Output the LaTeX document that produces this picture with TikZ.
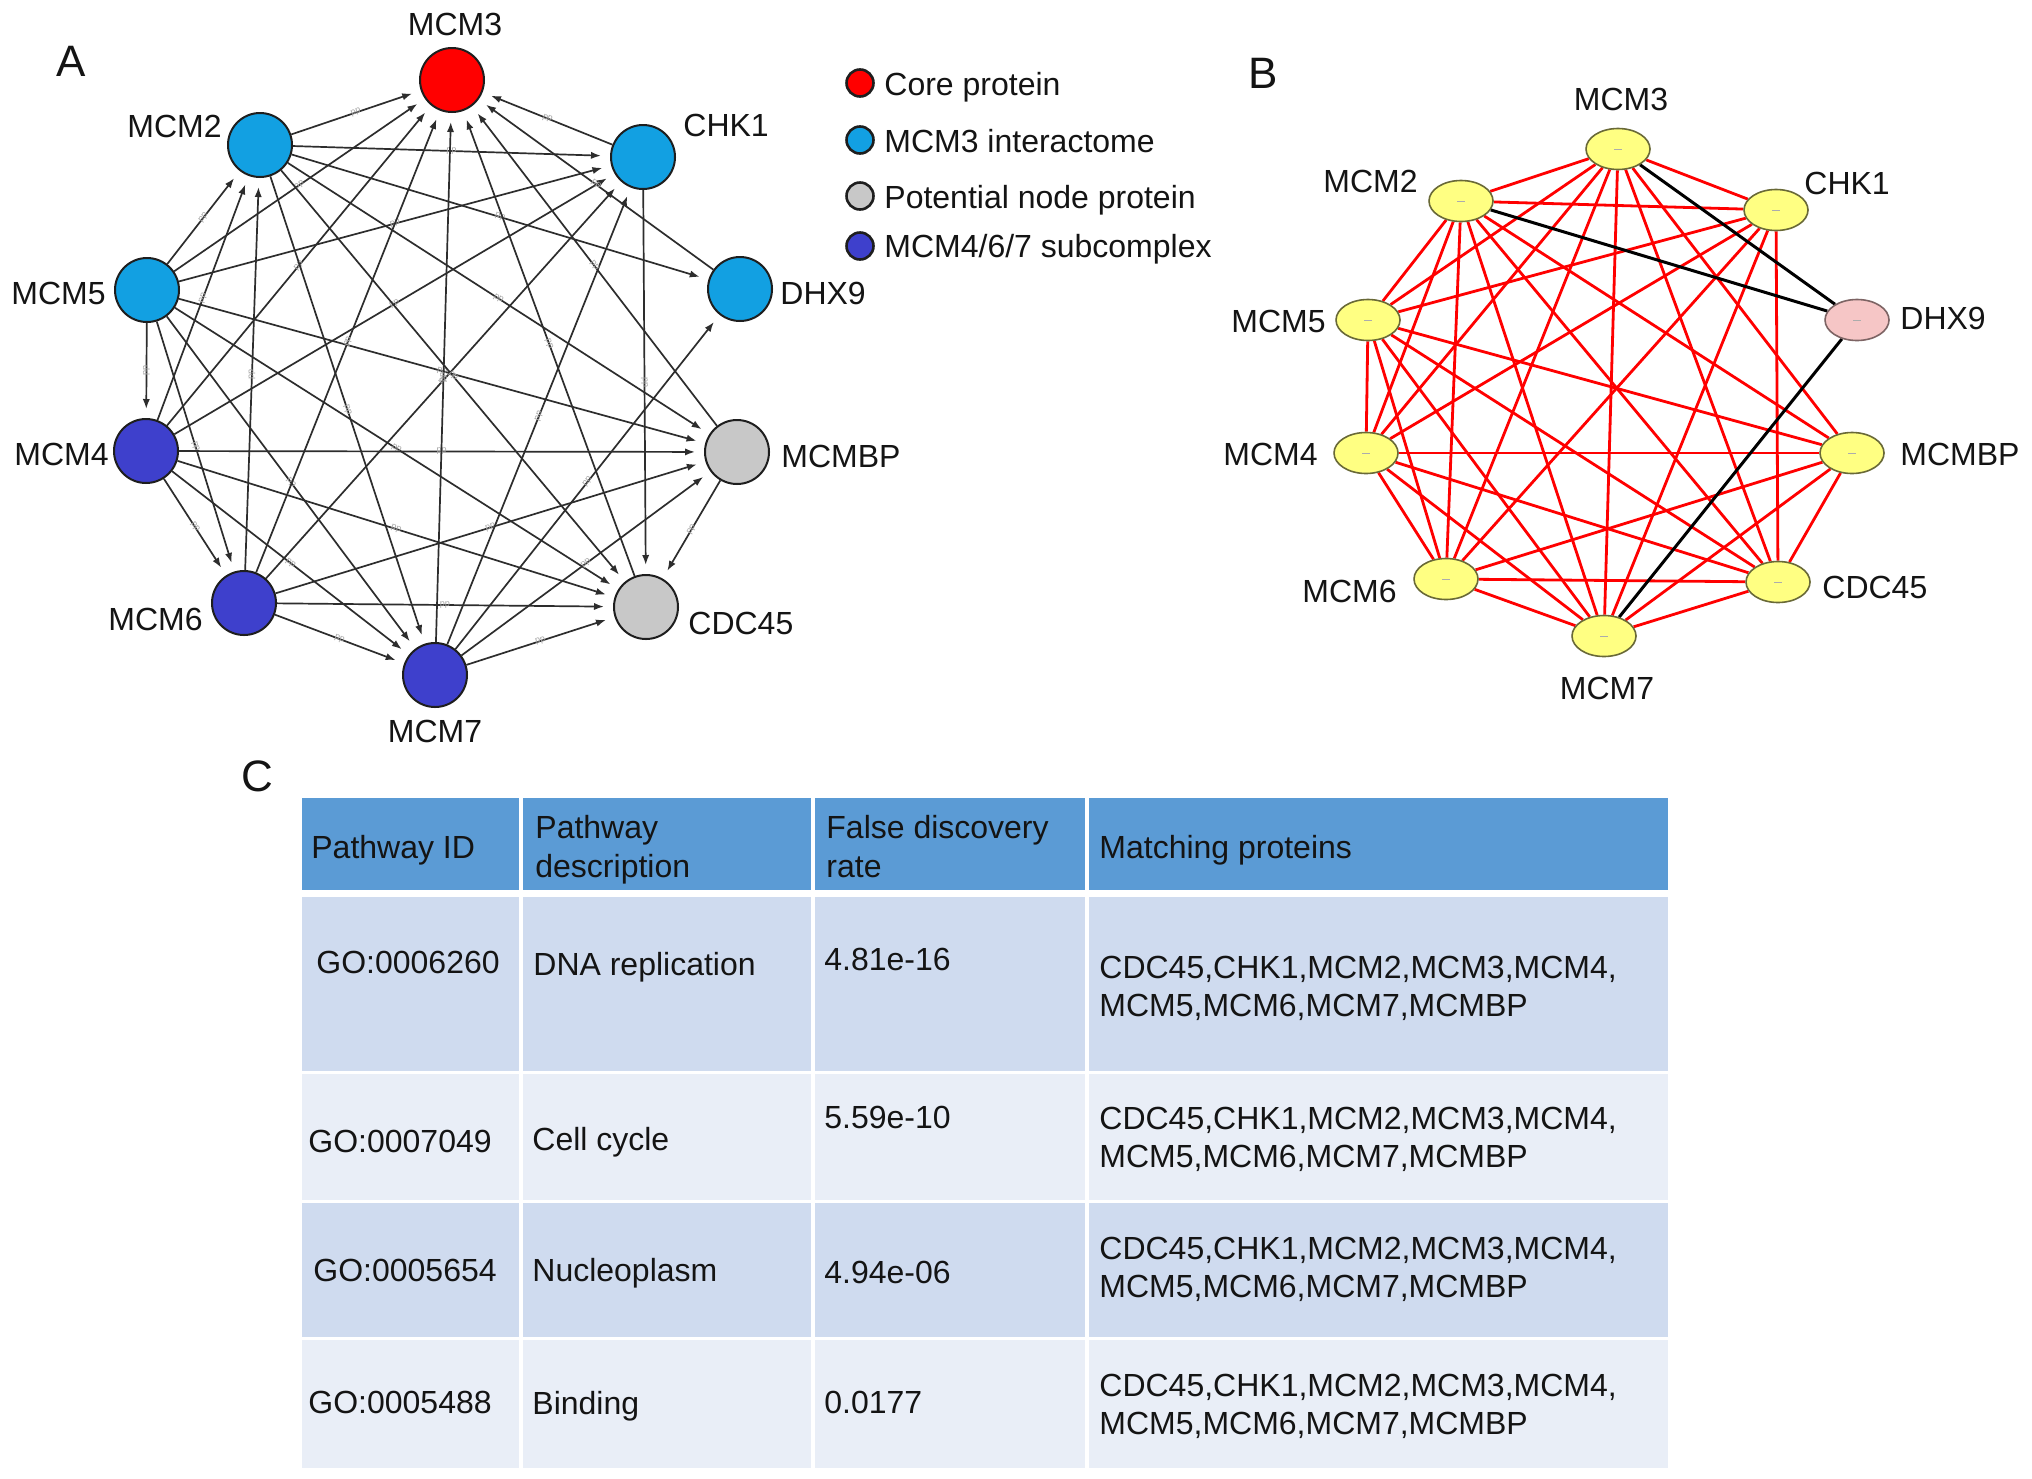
\documentclass[tikz,border=0pt]{standalone}
\usepackage{fontspec}
\setmainfont{Liberation Sans}
\usetikzlibrary{arrows.meta,shapes.geometric,backgrounds}
\definecolor{coreRed}{RGB}{255,0,0}
\definecolor{interBlue}{RGB}{18,160,226}
\definecolor{subBlue}{RGB}{62,64,204}
\definecolor{potGray}{RGB}{200,200,200}
\definecolor{nodeLine}{RGB}{30,30,30}
\definecolor{edgeGray}{RGB}{45,45,45}
\definecolor{txt}{RGB}{20,20,20}
\definecolor{bYellow}{RGB}{255,255,130}
\definecolor{bLine}{RGB}{105,105,55}
\definecolor{bPink}{RGB}{246,198,198}
\definecolor{bPinkLine}{RGB}{125,100,100}
\definecolor{hdrBlue}{RGB}{91,155,213}
\definecolor{rowDark}{RGB}{207,219,239}
\definecolor{rowLight}{RGB}{233,238,247}
\tikzset{
  anode/.style={circle, draw=nodeLine, line width=1pt, minimum size=32pt, inner sep=0pt},
  lgnode/.style={circle, draw=nodeLine, line width=1.3pt, minimum size=13.5pt, inner sep=0pt},
  bnode/.style={ellipse, draw=bLine, line width=0.8pt, minimum width=32pt, minimum height=20.5pt, inner sep=0pt, fill=bYellow},
  lbl/.style={inner sep=0pt, font=\fontsize{16}{19.5}\selectfont, text=txt},
  panel/.style={inner sep=0pt, font=\fontsize{22}{26}\selectfont, text=txt},
  aedge/.style={draw=edgeGray, line width=0.85pt, -{Latex[length=5pt,width=3.6pt]}, shorten >=4.5pt},
  pplab/.style={sloped, inner sep=0pt, font=\fontsize{4.5}{4.5}\selectfont, text=gray!70},
  redge/.style={draw=coreRed, line width=1.4pt},
  kedge/.style={draw=black, line width=1.5pt},
  tick/.style={draw=gray!65, line width=0.4pt}
}
\begin{document}
\begin{tikzpicture}[x=0.5pt,y=-0.5pt]
\useasboundingbox (0,0) rectangle (2032,1478);
\begin{pgfonlayer}{background}
\fill[white] (0,0) rectangle (2032,1478);
\end{pgfonlayer}

% ---------------- Panel A ----------------
\node[panel, anchor=base] (pA) at (71,76) {A};
\node[anode, fill=coreRed]   (a3) at (452,80) {};
\node[anode, fill=interBlue] (a2) at (260,145) {};
\node[anode, fill=interBlue] (ak) at (643,157) {};
\node[anode, fill=interBlue] (a5) at (147,290) {};
\node[anode, fill=interBlue] (ad) at (740,289) {};
\node[anode, fill=subBlue]   (a4) at (146,451) {};
\node[anode, fill=potGray]   (ab) at (737,452) {};
\node[anode, fill=subBlue]   (a6) at (244,603) {};
\node[anode, fill=potGray]   (ac) at (646,607) {};
\node[anode, fill=subBlue]   (a7) at (435,675) {};

\node[lbl, anchor=base]      (la3) at (455,35) {MCM3};
\node[lbl, anchor=base east] (la2) at (222,137) {MCM2};
\node[lbl, anchor=base west] (lak) at (683,136) {CHK1};
\node[lbl, anchor=base east] (la5) at (106,304) {MCM5};
\node[lbl, anchor=base west] (lad) at (780,304) {DHX9};
\node[lbl, anchor=base east] (la4) at (109,465) {MCM4};
\node[lbl, anchor=base west] (lab) at (781,467) {MCMBP};
\node[lbl, anchor=base east] (la6) at (203,630) {MCM6};
\node[lbl, anchor=base west] (lac) at (688,634) {CDC45};
\node[lbl, anchor=base]      (la7) at (435,742) {MCM7};

\begin{pgfonlayer}{background}
\foreach \s/\t in {a5/a4,a5/a6,a5/a2,a5/a7,a5/ak,a5/ab,a5/ac,a5/a3,
                   a4/a6,a4/a2,a4/a7,a4/ak,a4/ab,a4/ac,a4/a3,
                   a6/a2,a6/a7,a6/ak,a6/ab,a6/ac,a6/a3,
                   a2/a7,a2/ak,a2/ad,a2/ab,a2/ac,a2/a3,
                   a7/ak,a7/ad,a7/ab,a7/ac,a7/a3,
                   ak/ac,ak/a3,ad/a3,ab/ac,ab/a3,ac/a3}
  \draw[aedge] (\s) -- node[pplab] {pp} (\t);
\end{pgfonlayer}

% legend
\node[lgnode, fill=coreRed]   (g1) at (860,83) {};
\node[lgnode, fill=interBlue] (g2) at (860,140) {};
\node[lgnode, fill=potGray]   (g3) at (860,196) {};
\node[lgnode, fill=subBlue]   (g4) at (860,246) {};
\node[lbl, anchor=base west] (t1) at (884,95) {Core protein};
\node[lbl, anchor=base west] (t2) at (884,152) {MCM3 interactome};
\node[lbl, anchor=base west] (t3) at (884,208) {Potential node protein};
\node[lbl, anchor=base west] (t4) at (884,257) {MCM4/6/7 subcomplex};

% ---------------- Panel B ----------------
\node[panel, anchor=base] (pB) at (1263,88) {B};
\node[bnode] (b3) at (1618,149) {};
\node[bnode] (b2) at (1461,201) {};
\node[bnode] (bk) at (1776,210) {};
\node[bnode] (b5) at (1368,320) {};
\node[bnode, fill=bPink, draw=bPinkLine] (bd) at (1857,320) {};
\node[bnode] (b4) at (1366,453) {};
\node[bnode] (bb) at (1852,453) {};
\node[bnode] (b6) at (1446,579) {};
\node[bnode] (bc) at (1778,582) {};
\node[bnode] (b7) at (1604,636) {};
\foreach \n in {b3,b2,bk,b5,bd,b4,bb,b6,bc,b7}
  \draw[tick] ([xshift=-2pt]\n.center) -- ([xshift=2pt]\n.center);

\node[lbl, anchor=base]      (lb3) at (1621,110) {MCM3};
\node[lbl, anchor=base east] (lb2) at (1418,192) {MCM2};
\node[lbl, anchor=base west] (lbk) at (1804,194) {CHK1};
\node[lbl, anchor=base east] (lb5) at (1326,332) {MCM5};
\node[lbl, anchor=base west] (lbd) at (1900,329) {DHX9};
\node[lbl, anchor=base east] (lb4) at (1318,465) {MCM4};
\node[lbl, anchor=base west] (lbb) at (1900,465) {MCMBP};
\node[lbl, anchor=base east] (lb6) at (1397,602) {MCM6};
\node[lbl, anchor=base west] (lbc) at (1822,598) {CDC45};
\node[lbl, anchor=base]      (lb7) at (1607,699) {MCM7};

\begin{pgfonlayer}{background}
\foreach \s/\t in {b3/b2,b3/bk,b3/b5,b3/b4,b3/bb,b3/b6,b3/bc,b3/b7,
                   b2/bk,b2/b5,b2/b4,b2/bb,b2/b6,b2/bc,b2/b7,
                   bk/b5,bk/b4,bk/b6,bk/bc,bk/b7,
                   b5/b4,b5/bb,b5/b6,b5/bc,b5/b7,
                   b4/bb,b4/b6,b4/bc,b4/b7,
                   bb/b6,bb/bc,bb/b7,
                   b6/bc,b6/b7,bc/b7}
  \draw[redge] (\s) -- (\t);
\foreach \s/\t in {b2/bd,b3/bd,bd/b7}
  \draw[kedge] (\s) -- (\t);
\end{pgfonlayer}

% ---------------- Panel C ----------------
\node[panel, anchor=base] (pC) at (257,791) {C};
\foreach \x/\X in {302/519, 523/811, 815/1085, 1089/1668} {
  \fill[hdrBlue]  (\x,798)  rectangle (\X,890);
  \fill[rowDark]  (\x,897)  rectangle (\X,1071);
  \fill[rowLight] (\x,1074) rectangle (\X,1200);
  \fill[rowDark]  (\x,1203) rectangle (\X,1337);
  \fill[rowLight] (\x,1340) rectangle (\X,1468);
}
\node[lbl, anchor=base west] (h1)  at (311,858) {Pathway ID};
\node[lbl, anchor=base west] (h2a) at (535,838) {Pathway};
\node[lbl, anchor=base west] (h2b) at (535,877) {description};
\node[lbl, anchor=base west] (h3a) at (826,838) {False discovery};
\node[lbl, anchor=base west] (h3b) at (826,877) {rate};
\node[lbl, anchor=base west] (h4)  at (1099,858) {Matching proteins};

\node[lbl, anchor=base west] (r1a) at (316,973) {GO:0006260};
\node[lbl, anchor=base west] (r1b) at (533,975) {DNA replication};
\node[lbl, anchor=base west] (r1c) at (824,970) {4.81e-16};
\node[lbl, anchor=base west] (r1d) at (1099,978) {CDC45,CHK1,MCM2,MCM3,MCM4,};
\node[lbl, anchor=base west] (r1e) at (1099,1016) {MCM5,MCM6,MCM7,MCMBP};

\node[lbl, anchor=base west] (r2a) at (308,1152) {GO:0007049};
\node[lbl, anchor=base west] (r2b) at (532,1150) {Cell cycle};
\node[lbl, anchor=base west] (r2c) at (824,1128) {5.59e-10};
\node[lbl, anchor=base west] (r2d) at (1099,1129) {CDC45,CHK1,MCM2,MCM3,MCM4,};
\node[lbl, anchor=base west] (r2e) at (1099,1167) {MCM5,MCM6,MCM7,MCMBP};

\node[lbl, anchor=base west] (r3a) at (313,1281) {GO:0005654};
\node[lbl, anchor=base west] (r3b) at (532,1281) {Nucleoplasm};
\node[lbl, anchor=base west] (r3c) at (824,1283) {4.94e-06};
\node[lbl, anchor=base west] (r3d) at (1099,1259) {CDC45,CHK1,MCM2,MCM3,MCM4,};
\node[lbl, anchor=base west] (r3e) at (1099,1297) {MCM5,MCM6,MCM7,MCMBP};

\node[lbl, anchor=base west] (r4a) at (308,1413) {GO:0005488};
\node[lbl, anchor=base west] (r4b) at (532,1414) {Binding};
\node[lbl, anchor=base west] (r4c) at (824,1413) {0.0177};
\node[lbl, anchor=base west] (r4d) at (1099,1396) {CDC45,CHK1,MCM2,MCM3,MCM4,};
\node[lbl, anchor=base west] (r4e) at (1099,1434) {MCM5,MCM6,MCM7,MCMBP};
\end{tikzpicture}
\end{document}
